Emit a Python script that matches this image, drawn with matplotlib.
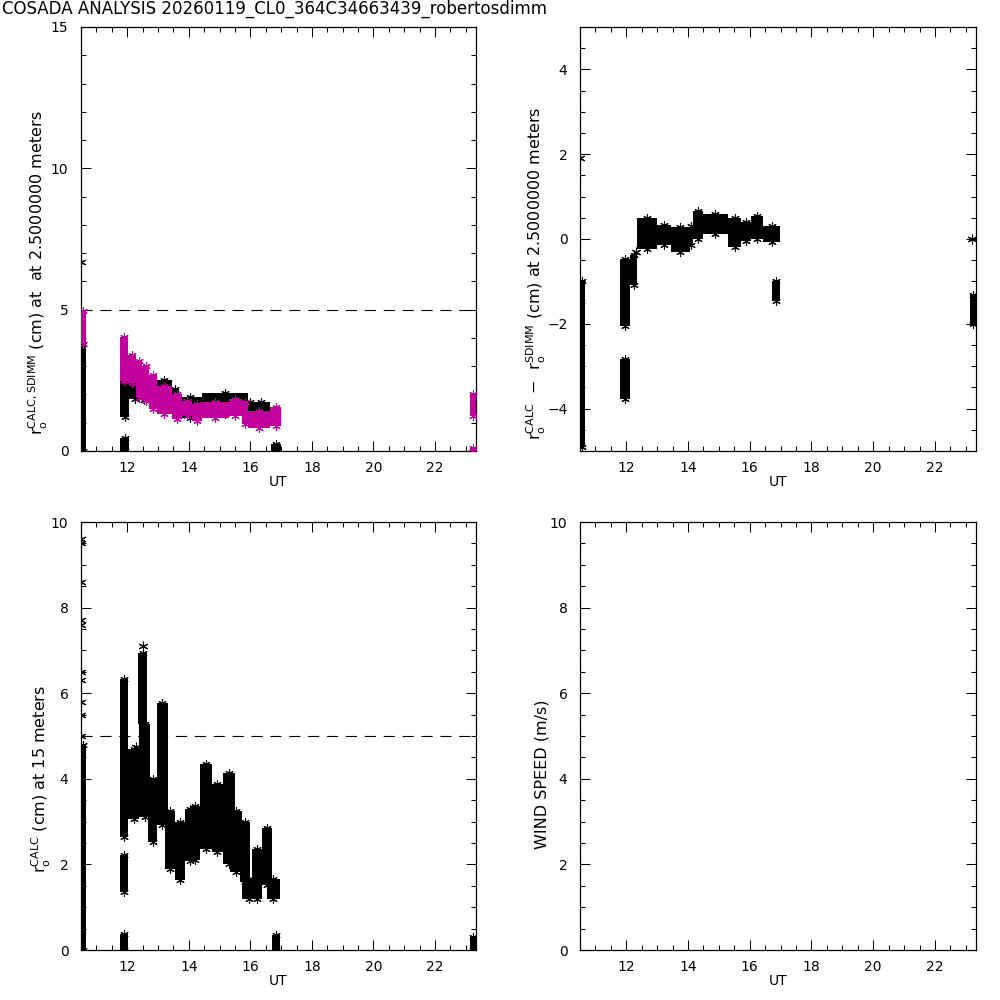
import matplotlib
matplotlib.use('Agg')
import matplotlib.pyplot as plt
from matplotlib.ticker import MultipleLocator, FixedLocator

TITLE = "COSADA ANALYSIS 20260119_CL0_364C34663439_robertosdimm"
UT_MIN, UT_MAX = 10.5, 23.33
UT_TICKS = [12, 14, 16, 18, 20, 22]
THRESH = 5.0
MAGENTA = '#C2009C'

# ---- Panel 1: r0 CALC (black) and SDIMM (magenta) at 2.5 m: time bins (start, width, low, high)
calc25_t  = [10.50, 11.77, 11.77, 12.04, 12.48, 12.64, 12.96, 13.45, 13.67, 14.42, 15.94, 16.05, 16.66]
calc25_w  = [0.16, 0.30, 0.30, 0.44, 0.16, 0.32, 0.49, 0.22, 0.75, 1.52, 0.11, 0.60, 0.34]
calc25_lo = [0.00, 1.20, 0.00, 1.85, 1.80, 1.70, 1.60, 1.30, 1.15, 1.30, 1.20, 1.10, 0.00]
calc25_hi = [3.80, 2.80, 0.45, 2.50, 2.95, 2.60, 2.50, 2.20, 1.90, 2.05, 1.75, 1.72, 0.25]
calc25_pt_t = [10.50]
calc25_pt_v = [6.70]

sdimm_t  = [10.50, 11.77, 12.04, 12.30, 12.48, 12.72, 12.96, 13.45, 13.77, 14.10, 14.42, 15.30, 15.73, 15.94, 16.64, 23.15, 23.15]
sdimm_w  = [0.16, 0.27, 0.26, 0.18, 0.24, 0.24, 0.49, 0.32, 0.33, 0.32, 0.88, 0.43, 0.21, 0.70, 0.36, 0.18, 0.18]
sdimm_lo = [3.80, 2.48, 2.42, 1.89, 1.77, 1.50, 1.30, 1.13, 1.24, 1.06, 1.18, 1.24, 0.95, 0.83, 0.89, 1.24, 0.00]
sdimm_hi = [4.95, 4.02, 3.40, 3.19, 3.00, 2.70, 2.30, 2.00, 1.77, 1.65, 1.72, 1.83, 1.72, 1.42, 1.54, 2.03, 0.12]

# ---- Panel 2: r0 CALC - r0 SDIMM
diff_t  = [10.50, 11.80, 11.80, 12.12, 12.35, 13.00, 13.45, 14.05, 14.15, 14.48, 15.30, 15.73, 16.05, 16.43, 16.72, 23.12]
diff_w  = [0.16, 0.32, 0.32, 0.23, 0.65, 0.45, 0.60, 0.10, 0.33, 0.82, 0.43, 0.32, 0.38, 0.55, 0.26, 0.21]
diff_lo = [-4.90, -2.06, -3.77, -1.08, -0.23, -0.15, -0.30, -0.15, 0.00, 0.12, -0.19, -0.05, 0.00, -0.07, -1.47, -2.01]
diff_hi = [-1.00, -0.46, -2.84, -0.38, 0.50, 0.32, 0.28, 0.30, 0.65, 0.60, 0.50, 0.40, 0.55, 0.30, -1.00, -1.31]
diff_pt_t = [10.50, 23.20, 12.30]
diff_pt_v = [1.90, 0.00, -0.30]

# ---- Panel 3: r0 CALC at 15 m
calc15_t  = [10.50, 11.77, 11.77, 11.77, 12.04, 12.35, 12.39, 12.68, 12.97, 13.23, 13.55, 13.88, 14.04, 14.36, 14.75, 15.11, 15.34, 15.66, 15.73, 16.05, 16.38, 16.54, 16.70, 23.15]
calc15_w  = [0.16, 0.27, 0.27, 0.27, 0.35, 0.30, 0.35, 0.30, 0.35, 0.32, 0.33, 0.32, 0.32, 0.39, 0.36, 0.39, 0.39, 0.33, 0.47, 0.33, 0.32, 0.42, 0.26, 0.18]
calc15_lo = [0.00, 2.65, 1.36, 0.00, 3.05, 5.28, 3.10, 2.53, 2.93, 1.90, 1.64, 2.07, 2.10, 2.35, 2.30, 2.00, 1.83, 1.60, 1.20, 1.20, 1.52, 1.20, 0.00, 0.00]
calc15_hi = [4.80, 6.33, 2.23, 0.38, 4.70, 6.95, 5.28, 4.00, 5.78, 3.24, 3.00, 3.30, 3.36, 4.34, 3.87, 4.13, 3.24, 3.00, 1.67, 2.37, 2.85, 1.67, 0.35, 0.30]
calc15_pt_t = [10.50, 10.50, 10.50, 10.50, 10.50, 10.50, 10.50, 10.50, 10.50, 10.50, 12.52, 12.30]
calc15_pt_v = [9.60, 9.50, 8.60, 7.70, 7.60, 6.50, 6.30, 5.80, 5.50, 5.00, 7.10, 4.75]

STAR = (6, 2, 0)

fig = plt.figure(figsize=(10, 10), dpi=100)
fig.patch.set_facecolor('white')
ax1 = fig.add_axes([0.081, 0.549, 0.395, 0.424])
ax2 = fig.add_axes([0.580, 0.549, 0.396, 0.424])
ax3 = fig.add_axes([0.081, 0.050, 0.395, 0.428])
ax4 = fig.add_axes([0.580, 0.050, 0.396, 0.428])


def draw_band(ax, t, w, lo, hi, color):
    h = [b - a for a, b in zip(lo, hi)]
    ax.bar(t, h, width=w, bottom=lo, align='edge', color=color, linewidth=0, zorder=3)
    xc = [a + b / 2 for a, b in zip(t, w)]
    ax.scatter(xc, hi, marker=STAR, s=30, color=color, linewidths=0.8, zorder=3)
    ax.scatter(xc, lo, marker=STAR, s=30, color=color, linewidths=0.8, zorder=3)


def draw_points(ax, t, v, color):
    ax.scatter(t, v, marker=STAR, s=40, color=color, linewidths=0.8, zorder=3)


def style(ax, ylim, ymajor, yminor, yticks=None):
    ax.set_xlim(UT_MIN, UT_MAX)
    ax.set_ylim(*ylim)
    ax.xaxis.set_major_locator(FixedLocator(UT_TICKS))
    ax.xaxis.set_minor_locator(MultipleLocator(0.5))
    if yticks is not None:
        ax.yaxis.set_major_locator(FixedLocator(yticks))
    else:
        ax.yaxis.set_major_locator(MultipleLocator(ymajor))
    ax.yaxis.set_minor_locator(MultipleLocator(yminor))
    ax.tick_params(which='both', direction='in', top=True, right=True, width=0.75, colors='black')
    ax.tick_params(which='major', length=7.5)
    ax.tick_params(which='minor', length=3.8)
    ax.tick_params(axis='y', which='major', pad=9, labelsize=10)
    ax.tick_params(axis='x', which='major', pad=7, labelsize=10)
    for s in ax.spines.values():
        s.set_linewidth(0.9)
    ax.set_xlabel('UT', fontsize=10)
    ax.xaxis.set_label_coords(0.5, -0.056)


LABEL_FS = 11.5

# Panel 1
draw_band(ax1, calc25_t, calc25_w, calc25_lo, calc25_hi, 'black')
draw_points(ax1, calc25_pt_t, calc25_pt_v, 'black')
draw_band(ax1, sdimm_t, sdimm_w, sdimm_lo, sdimm_hi, MAGENTA)
ax1.axhline(THRESH, color='black', lw=0.8, ls=(0, (10, 7)), zorder=2)
style(ax1, (0, 15), 5, 1)
ax1.set_ylabel(r'r$_{\rm o}^{\rm CALC,SDIMM}$ (cm) at  at 2.5000000 meters', fontsize=LABEL_FS)
ax1.yaxis.set_label_coords(-0.078, 0.42)

# Panel 2
draw_band(ax2, diff_t, diff_w, diff_lo, diff_hi, 'black')
draw_points(ax2, diff_pt_t, diff_pt_v, 'black')
style(ax2, (-5, 5), 2, 0.5, yticks=[-4, -2, 0, 2, 4])
ax2.set_ylabel(r'r$_{\rm o}^{\rm CALC}$  $-$  r$_{\rm o}^{\rm SDIMM}$ (cm) at 2.5000000 meters', fontsize=LABEL_FS)
ax2.yaxis.set_label_coords(-0.081, 0.42)

# Panel 3
draw_band(ax3, calc15_t, calc15_w, calc15_lo, calc15_hi, 'black')
draw_points(ax3, calc15_pt_t, calc15_pt_v, 'black')
ax3.axhline(THRESH, color='black', lw=0.8, ls=(0, (10, 7)), zorder=2)
style(ax3, (0, 10), 2, 0.5)
ax3.set_ylabel(r'r$_{\rm o}^{\rm CALC}$ (cm) at 15 meters', fontsize=LABEL_FS)
ax3.yaxis.set_label_coords(-0.072, 0.40)

# Panel 4 (empty wind speed)
style(ax4, (0, 10), 2, 0.5)
ax4.set_ylabel('WIND SPEED (m/s)', fontsize=LABEL_FS)
ax4.yaxis.set_label_coords(-0.076, 0.41)

fig.text(0.002, 0.991, TITLE, fontsize=12, ha='left', va='center')

fig.savefig('out.png', dpi=100, facecolor='white')
